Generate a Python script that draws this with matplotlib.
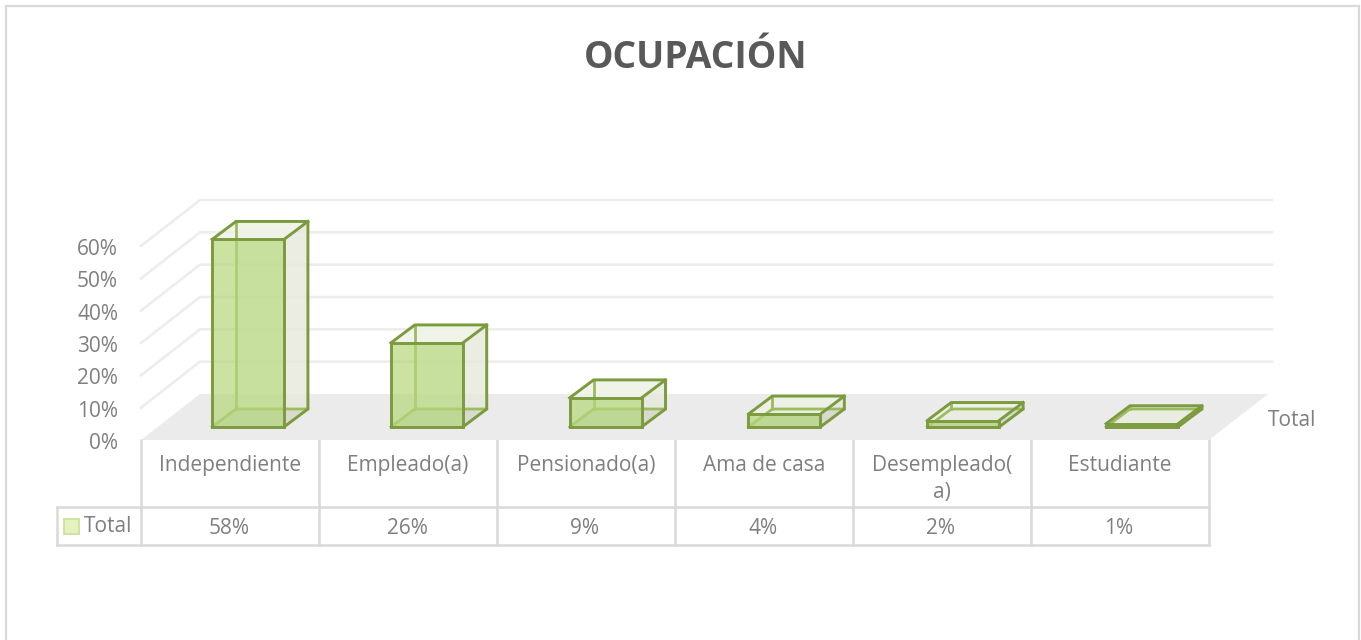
import matplotlib
matplotlib.use('Agg')
import matplotlib.pyplot as plt
from matplotlib.patches import Polygon, Rectangle
from matplotlib.transforms import ScaledTranslation

W, H = 1361, 640

categories = ['Independiente', 'Empleado(a)', 'Pensionado(a)', 'Ama de casa', 'Desempleado(\na)', 'Estudiante']
values = [58, 26, 9, 4, 2, 1]
value_labels = ['58%', '26%', '9%', '4%', '2%', '1%']
y_ticks = [0, 10, 20, 30, 40, 50, 60]
series_name = 'Total'

plt.rcParams['font.family'] = ['Open Sans', 'DejaVu Sans']

TEXT = '#7f7f7f'
GRID = '#ededed'
TABLE = '#d9d9d9'
EDGE = '#7c9a3e'
HIDDEN = '#9dbb5f'

fig = plt.figure(figsize=(W / 100, H / 100), dpi=100)

# pixel axes for the frame, title and table lines
bg = fig.add_axes([0, 0, 1, 1])
bg.set_xlim(0, W)
bg.set_ylim(H, 0)
bg.axis('off')
bg.add_patch(Rectangle((6, 6), 1353, 700, fc='white', ec='#d9d9d9', lw=1.6))
bg.text(695.5, 58, 'OCUPACIÓN', ha='center', va='center', fontsize=26.8, fontweight='bold', color='#595959')

# data axes, the front plane of the chart
ax = fig.add_axes([141 / W, (H - 440) / H, 1068 / W, 194 / H])
ax.set_xlim(0, 6)
ax.set_ylim(0, 60)
ax.patch.set_visible(False)
for s in ax.spines.values():
    s.set_visible(False)
ax.set_yticks(y_ticks)
ax.set_yticklabels([str(t) + '%' for t in y_ticks], fontsize=15, color=TEXT)
ax.set_xticks([i + 0.5 for i in range(len(categories))])
ax.set_xticklabels(categories, fontsize=15, color=TEXT, linespacing=1.35)
ax.tick_params(axis='y', length=0, pad=16.5)
ax.tick_params(axis='x', length=0, pad=11)
down = ScaledTranslation(0, -0.7 / 72, fig.dpi_scale_trans)
for lab in ax.get_yticklabels():
    lab.set_transform(lab.get_transform() + down)

# oblique depth of the floor and of a bar, in data units
dx, dy = 59 / 178, 46 / 3.233
bar_w = 0.404
bar_dx, bar_dy = 24 / 178, 18 / 3.233
start = 13 / 46
spacing = 1.0045


def poly(pts, **kw):
    ax.add_patch(Polygon(pts, closed=True, clip_on=False, **kw))


poly([(0, 0), (6, 0), (6 + dx, dy), (dx, dy)], fc='#ebebeb', ec='none', zorder=1)
for t in y_ticks[1:]:
    ax.plot([0, dx, 6 + dx + 4 / 178], [t, t + dy, t + dy], color=GRID, lw=1.9, clip_on=False, zorder=1.5)

for i, v in enumerate(values):
    x0 = (i + 0.5) * spacing - bar_w / 2 + start * dx + 0.005
    x1 = x0 + bar_w
    b = start * dy
    t = b + v
    bx, by = bar_dx, bar_dy
    # faint faces behind the front
    poly([(x0, b), (x1, b), (x1 + bx, b + by), (x0 + bx, b + by)], fc='#c4c8b4', alpha=0.45, ec='none', zorder=2)
    poly([(x1, b), (x1 + bx, b + by), (x1 + bx, t + by), (x1, t)], fc='#d8dacb', alpha=0.6, ec='none', zorder=2.1)
    poly([(x0 + bx, b + by), (x1 + bx, b + by), (x1 + bx, t + by), (x0 + bx, t + by)], fc='#f0f2e8', alpha=0.5, ec='none', zorder=2.1)
    poly([(x0, t), (x1, t), (x1 + bx, t + by), (x0 + bx, t + by)], fc='#eef2e6', alpha=0.8, ec='none', zorder=2.2)
    # hidden edges
    ax.plot([x0, x0 + bx, x1 + bx], [b, b + by, b + by], color=HIDDEN, lw=2, clip_on=False, zorder=2.3)
    ax.plot([x0 + bx, x0 + bx], [b + by, t + by], color=HIDDEN, lw=2, clip_on=False, zorder=2.3)
    # front face and outer edges
    poly([(x0, b), (x1, b), (x1, t), (x0, t)], fc='#b5d67a', alpha=0.7, ec='none', zorder=2.5)
    poly([(x0, b), (x1, b), (x1, t), (x0, t)], fc='none', ec=EDGE, lw=2.1, zorder=3)
    ax.plot([x1, x1 + bx, x1 + bx, x0 + bx, x0], [b, b + by, t + by, t + by, t], color=EDGE, lw=2.1,
            clip_on=False, solid_joinstyle='round', zorder=3)
    ax.plot([x1, x1 + bx], [t, t + by], color=EDGE, lw=2.1, clip_on=False, zorder=3)

# data table under the chart
for i in range(7):
    x = 141 + 178 * i
    bg.plot([x, x], [440, 545], color=TABLE, lw=1.8)
bg.plot([57, 1209], [507, 507], color=TABLE, lw=1.8)
bg.plot([57, 1209], [545, 545], color=TABLE, lw=1.8)
bg.plot([57, 57], [507, 545], color=TABLE, lw=1.8)
for i, lab in enumerate(value_labels):
    bg.text(229 + 178 * i, 528, lab, ha='center', va='center', fontsize=15, color=TEXT)
bg.add_patch(Rectangle((64.5, 519), 15, 14.5, fc='#e3f2bf', ec='#cfe3a0', lw=1.4))
bg.text(84, 527, series_name, ha='left', va='center', fontsize=15, color=TEXT)
bg.text(1268, 421, series_name, ha='left', va='center', fontsize=15, color=TEXT)

fig.savefig('out.png', dpi=100)
